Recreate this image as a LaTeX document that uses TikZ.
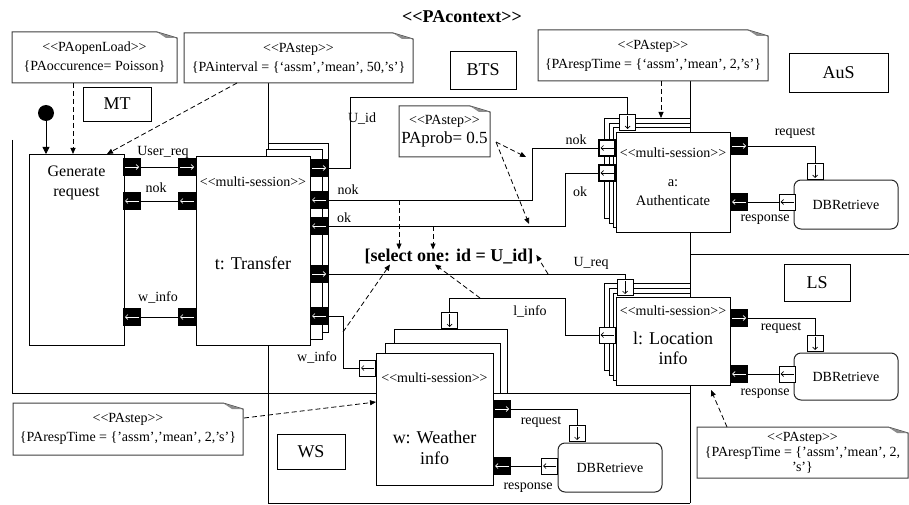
\documentclass[tikz,border=0pt]{standalone}
\usepackage{fontspec}
\setmainfont{Liberation Serif}
\usetikzlibrary{arrows.meta}
\newcommand\myLL{<\kern0pt<}
\newcommand\myGG{>\kern0pt>}
\newcommand\notedraw[1]{%
  \draw[notebd] (#1.south west) -- (#1.north west) -- ([xshift=-20pt]#1.north east) -- ([yshift=-6pt]#1.north east) -- (#1.south east) -- cycle;
  \fill[black!45] ([xshift=-20pt]#1.north east) -- ([yshift=-6pt]#1.north east) -- ([xshift=-11pt,yshift=-6pt]#1.north east) -- cycle;}
\begin{document}
\begin{tikzpicture}[x=1pt,y=-1pt,line width=0.8pt,
  every node/.style={inner sep=0pt,outer sep=0pt},
  sm/.style={font=\fontsize{14}{16}\selectfont},
  big/.style={font=\fontsize{18}{20}\selectfont,align=center},
  blk/.style={draw,fill=white},
  tag/.style={draw,fill=white,font=\fontsize{18}{20}\selectfont},
  notetx/.style={align=center,font=\fontsize{14}{19}\selectfont},
  notebd/.style={draw=black!75,line width=1pt},
  dsh/.style={dash pattern=on 5pt off 3pt,-{Triangle[length=6pt,width=5pt]}},
  pB/.style={draw=black,fill=black,minimum width=17pt,minimum height=17pt},
  pW/.style={draw=black,fill=white,minimum width=16pt,minimum height=16pt},
  arrR/.style={path picture={\draw[#1,line width=0.7pt,-{Straight Barb[length=2.5pt,width=5pt]}] ([xshift=1.5pt]path picture bounding box.west) -- ([xshift=-1.5pt]path picture bounding box.east);}},
  arrL/.style={path picture={\draw[#1,line width=0.7pt,-{Straight Barb[length=2.5pt,width=5pt]}] ([xshift=-1.5pt]path picture bounding box.east) -- ([xshift=1.5pt]path picture bounding box.west);}},
  arrD/.style={path picture={\draw[#1,line width=0.7pt,-{Straight Barb[length=2.5pt,width=5pt]}] ([yshift=-1.5pt]path picture bounding box.north) -- ([yshift=1.5pt]path picture bounding box.south);}},
  portBR/.style={pB,arrR=white},
  portBL/.style={pB,arrL=white},
  portWL/.style={pW,arrL=black},
  portWD/.style={pW,arrD=black},
  thickport/.style={line width=1.6pt},
  db/.style={draw=black!85,line width=1pt,rounded corners=7pt,fill=white,minimum width=104pt,font=\fontsize{14}{16}\selectfont},
]
\fill[white] (0,0) rectangle (909,505);
\useasboundingbox (0,0) rectangle (909,505);
\clip (0,0) rectangle (909,505);

% region lines
\draw (12,140) -- (12,393) -- (690,393);
\draw (268,83) -- (268,503) -- (690,503);
\draw (690,81) -- (690,503);
\draw (690,254) -- (909,254);

% title
\node[font=\bfseries\fontsize{18}{20}\selectfont] (title) at (462,17) {\myLL PAcontext\myGG};

% notes
\node[notetx,minimum width=165pt,minimum height=51pt] (nOL) at (94.5,57.5) {\myLL PAopenLoad\myGG\\\{PAoccurence= Poisson\}};
\notedraw{nOL}
\node[notetx,minimum width=229pt,minimum height=50pt] (nPI) at (298.5,58) {\myLL PAstep\myGG\\\{PAinterval = \{‘assm’,’mean’, 50,’s’\}};
\notedraw{nPI}
\node[notetx,minimum width=230pt,minimum height=51pt] (nAu) at (653,55.5) {\myLL PAstep\myGG\\\{PArespTime = \{‘assm’,’mean’, 2,’s’\}};
\notedraw{nAu}
\node[notetx,minimum width=91pt,minimum height=51pt] (nPr) at (444.5,131.5) {\myLL PAstep\myGG\\{\fontsize{17}{19}\selectfont PAprob= 0.5}};
\notedraw{nPr}
\node[notetx,minimum width=230pt,minimum height=52pt] (nWS) at (128,429) {\myLL PAstep\myGG\\\{PArespTime = \{’assm’,’mean’, 2,’s’\}};
\notedraw{nWS}
\node[notetx,font=\fontsize{14}{15}\selectfont,minimum width=211pt,minimum height=51pt] (nLS) at (802.5,452.5) {\myLL PAstep\myGG\\\{PArespTime = \{’assm’,’mean’, 2,\\’s’\}};
\notedraw{nLS}

% tags
\node[tag,minimum width=68pt,minimum height=34pt] (tMT) at (117,104) {MT};
\node[tag,minimum width=66pt,minimum height=38pt] (tBTS) at (483,70) {BTS};
\node[tag,minimum width=99pt,minimum height=39pt] (tAuS) at (838.5,72.5) {AuS};
\node[tag,minimum width=68pt,minimum height=35pt] (tWS) at (311,451.5) {WS};
\node[tag,minimum width=66pt,minimum height=37pt] (tLS) at (817,282.5) {LS};

% initial + generate
\node[blk,minimum width=95pt,minimum height=191pt] (gen) at (76.5,249.5) {};
\node[font=\fontsize{16}{20}\selectfont,align=center] (genT) at (76.5,183) {Generate\\request};
\node[circle,fill=black,minimum size=16pt] (init) at (46,113) {};
\draw[-{Triangle[length=7pt,width=7pt]}] (init) -- (init |- gen.north);

% transfer stack
\node[blk,minimum width=60pt,minimum height=189pt] (tbA) at (298,237.5) {};
\node[blk,minimum width=56pt,minimum height=190pt] (tbB) at (294,244) {};
\node[blk,minimum width=114pt,minimum height=189pt] (tr) at (253,250.5) {};
\node[sm] (trS) at (253,182) {\myLL multi-session\myGG};
\node[big] (trT) at (253,263) {t: Transfer};

% authenticate stack
\node[blk,minimum width=86pt,minimum height=100pt] (ab1) at (647,168) {};
\node[blk,minimum width=81pt,minimum height=100pt] (ab2) at (649.5,173) {};
\node[blk,minimum width=77pt,minimum height=100pt] (ab3) at (651.5,177) {};
\node[blk,minimum width=114pt,minimum height=100pt] (au) at (673,182) {};
\node[sm] (auS) at (673,153) {\myLL multi-session\myGG};
\node[font=\fontsize{14.5}{19}\selectfont,align=center] (auT) at (673,192.5) {a:\\Authenticate};

% location stack
\node[blk,minimum width=86pt,minimum height=87pt] (lb1) at (647,326.5) {};
\node[blk,minimum width=81pt,minimum height=87pt] (lb2) at (649.5,331.5) {};
\node[blk,minimum width=77pt,minimum height=87pt] (lb3) at (651.5,336.5) {};
\node[blk,minimum width=114pt,minimum height=88pt] (lf) at (673,341) {};
\node[sm] (lfS) at (673,311) {\myLL multi-session\myGG};
\node[big] (lfT) at (673,348) {l: Location\\info};

% weather stack
\node[blk,minimum width=113pt,minimum height=64pt] (wb1) at (450.5,361) {};
\node[blk,minimum width=115pt,minimum height=50pt] (wb2) at (442.5,368) {};
\node[blk,minimum width=117pt,minimum height=132pt] (wf) at (434.5,419) {};
\node[sm] (wfS) at (434.5,378) {\myLL multi-session\myGG};
\node[font=\fontsize{18}{21}\selectfont,align=center] (wfT) at (434.5,447.5) {w: Weather\\info};

% DB boxes
\node[db,minimum height=49pt] (db1) at (846,204.5) {DBRetrieve};
\node[db,minimum height=47pt] (db2) at (846,376.5) {DBRetrieve};
\node[db,minimum height=49pt] (db3) at (610,467.5) {DBRetrieve};

% select
\node[font=\bfseries\fontsize{18}{20}\selectfont] (sel) at (449,257) {[select one: id = U\_id]};

% ports
\node[portBR] (gU) at (132,167) {};
\node[portBL] (gN) at (132,201) {};
\node[portBL] (gW) at (132,317) {};
\node[portBR] (tU) at (187,167) {};
\node[portBL] (tN) at (187,201) {};
\node[portBL] (tW) at (187,317) {};
\node[portBR] (tR1) at (319,168) {};
\node[portBL] (tR2) at (319,200) {};
\node[portBL] (tR3) at (319,226) {};
\node[portBR] (tR4) at (319,274) {};
\node[portBL] (tR5) at (319,316) {};
\node[portWD] (aT) at (627.5,122.5) {};
\node[portWL,thickport] (aL1) at (607,148) {};
\node[portWL,thickport] (aL2) at (607,173) {};
\node[portBR] (aR1) at (739,146) {};
\node[portBL] (aR2) at (739,202) {};
\node[portWD] (db1T) at (815,171.5) {};
\node[portWL] (db1L) at (787,202) {};
\node[portWD] (lT) at (625,287.5) {};
\node[portWL] (lL) at (607,335) {};
\node[portBR] (lR1) at (739,318) {};
\node[portBL] (lR2) at (739,374) {};
\node[portWD] (db2T) at (815,343.5) {};
\node[portWL] (db2L) at (787,374) {};
\node[portWD] (wT) at (449.5,320.5) {};
\node[portWL] (wL) at (367.5,368) {};
\node[portBR] (wR1) at (502,409) {};
\node[portBL] (wR2) at (502,466) {};
\node[portWD] (db3T) at (577,433.5) {};
\node[portWL] (db3L) at (549.5,466) {};

% connectors
\draw (gU) -- (tU);
\draw (tN) -- (gN);
\draw (tW) -- (gW);
\draw (tR1.east) -| (350,97) -| (aT.north);
\draw (aL1.west) -| (532,200) -- (tR2.east);
\draw (aL2.west) -| (565,226) -- (tR3.east);
\draw (tR4.east) -| (lT.north);
\draw (lL.west) -| (565,298) -| (wT.north);
\draw (wL.west) -| (343,316) -- (tR5.east);
\draw (aR1.east) -| (db1T.north);
\draw (db1L.west) -- (aR2.east);
\draw (lR1.east) -| (db2T.north);
\draw (db2L.west) -- (lR2.east);
\draw (wR1.east) -| (db3T.north);
\draw (db3L.west) -- (wR2.east);

% labels
\node[sm] (l1) at (163,152) {User\_req};
\node[sm] (l2) at (156,188) {nok};
\node[sm] (l3) at (158,297) {w\_info};
\node[sm] (l4) at (362,119) {U\_id};
\node[sm] (l5) at (348,190) {nok};
\node[sm] (l6) at (344,218) {ok};
\node[sm] (l7) at (576,140) {nok};
\node[sm] (l8) at (580,192) {ok};
\node[sm] (l9) at (591,263) {U\_req};
\node[sm] (l10) at (530,311) {l\_info};
\node[sm] (l11) at (317,357) {w\_info};
\node[sm] (l12) at (795,133) {request};
\node[sm] (l13) at (765,220) {response};
\node[sm] (l14) at (781,328) {request};
\node[sm] (l15) at (765,394) {response};
\node[sm] (l16) at (541,422) {request};
\node[sm] (l17) at (528,488) {response};

% dashed dependencies
\coordinate (c1) at (73,83);
\draw[dsh] (c1) -- (c1 |- gen.north);
\coordinate (c2) at (237,83);
\draw[dsh] (c2) -- ([xshift=-17pt]gen.north east);
\coordinate (c3) at (661,81);
\draw[dsh] (c3) -- (c3 |- ab1.north);
\coordinate (c4) at (727,427);
\draw[dsh] (c4) -- ([xshift=-19pt,yshift=-5pt]lf.south east);
\coordinate (c5) at (244,418);
\draw[dsh] (c5) -- ([yshift=17pt]wf.west);
\coordinate (pp) at (496,142);
\coordinate (pp1) at (526,157);
\coordinate (pp2) at (529,224);
\draw[dsh] (pp) -- (pp1);
\draw[dsh] (pp) -- (pp2);
\coordinate (dk1) at (399,200);
\draw[dsh] (dk1) -- (dk1 |- sel.north);
\coordinate (dk2) at (433,226);
\draw[dsh] (dk2) -- (dk2 |- sel.north);
\coordinate (dk3) at (548,274);
\draw[dsh] (dk3) -- ([xshift=3pt,yshift=2pt]sel.east);
\coordinate (dk4) at (480,298);
\draw[dsh] (dk4) -- ([xshift=-14pt]sel.south);
\coordinate (dk5) at (343,332);
\draw[dsh] (dk5) -- ([xshift=-59pt]sel.south);
\end{tikzpicture}
\end{document}
